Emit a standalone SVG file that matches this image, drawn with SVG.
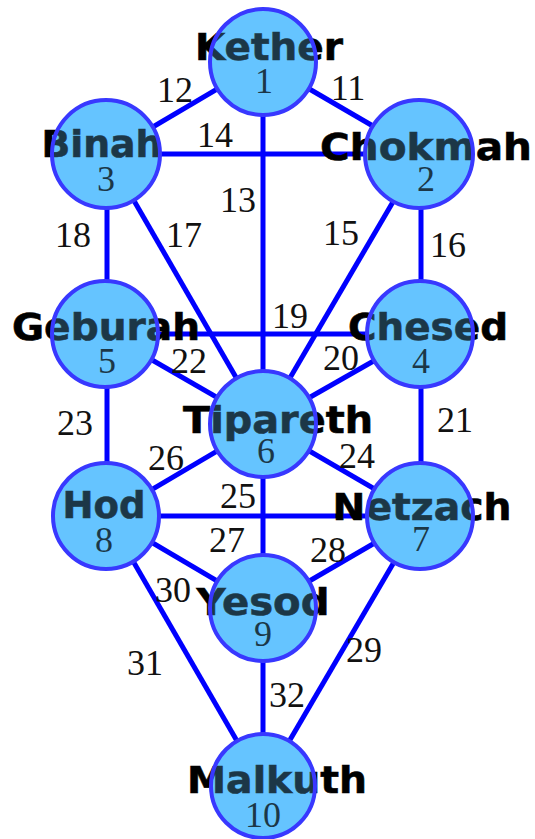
<svg xmlns="http://www.w3.org/2000/svg" width="535" height="839" viewBox="0 0 535 839">
<style>
.ln{stroke:#0000ff;stroke-width:5;fill:none}
.base{fill:#66c4ff;stroke:none}
.ov{fill:#66c4ff;fill-opacity:0.28;stroke:#3838ff;stroke-width:4}
.nm{font-family:"DejaVu Sans",sans-serif;font-weight:bold;font-size:38px;fill:#000;stroke:#000;stroke-width:0.6;text-anchor:middle}
.nu{font-family:"Liberation Serif",serif;font-size:36px;fill:#000;text-anchor:middle}
.el{font-family:"Liberation Serif",serif;font-size:36px;fill:#111;text-anchor:middle}
</style>
<rect width="535" height="839" fill="#fff"/>
<g id="connectors">
<line class="ln" x1="263" y1="62" x2="421" y2="154"/>
<line class="ln" x1="263" y1="62" x2="107" y2="154"/>
<line class="ln" x1="263" y1="62" x2="263" y2="424"/>
<line class="ln" x1="107" y1="154" x2="421" y2="154"/>
<line class="ln" x1="421" y1="154" x2="263" y2="424"/>
<line class="ln" x1="421" y1="154" x2="421" y2="334"/>
<line class="ln" x1="107" y1="154" x2="263" y2="424"/>
<line class="ln" x1="107" y1="154" x2="107" y2="334"/>
<line class="ln" x1="107" y1="334" x2="421" y2="334"/>
<line class="ln" x1="421" y1="334" x2="263" y2="424"/>
<line class="ln" x1="421" y1="334" x2="421" y2="516"/>
<line class="ln" x1="107" y1="334" x2="263" y2="424"/>
<line class="ln" x1="107" y1="334" x2="107" y2="516"/>
<line class="ln" x1="263" y1="424" x2="421" y2="516"/>
<line class="ln" x1="263" y1="424" x2="263" y2="608"/>
<line class="ln" x1="263" y1="424" x2="107" y2="516"/>
<line class="ln" x1="107" y1="516" x2="421" y2="516"/>
<line class="ln" x1="421" y1="516" x2="263" y2="608"/>
<line class="ln" x1="421" y1="516" x2="263" y2="786"/>
<line class="ln" x1="107" y1="516" x2="263" y2="608"/>
<line class="ln" x1="107" y1="516" x2="263" y2="786"/>
<line class="ln" x1="263" y1="608" x2="263" y2="786"/>
</g>
<g id="edge-labels">
<text class="el" x="348" y="100">11</text>
<text class="el" x="175" y="102">12</text>
<text class="el" x="238" y="212">13</text>
<text class="el" x="215" y="147">14</text>
<text class="el" x="341" y="245">15</text>
<text class="el" x="448" y="257">16</text>
<text class="el" x="184" y="247">17</text>
<text class="el" x="73" y="247">18</text>
<text class="el" x="290" y="328">19</text>
<text class="el" x="341" y="370">20</text>
<text class="el" x="455" y="432">21</text>
<text class="el" x="189" y="373">22</text>
<text class="el" x="75" y="435">23</text>
<text class="el" x="357" y="468">24</text>
<text class="el" x="238" y="508">25</text>
<text class="el" x="166" y="470">26</text>
<text class="el" x="227" y="552">27</text>
<text class="el" x="328" y="562">28</text>
<text class="el" x="364" y="662">29</text>
<text class="el" x="173" y="602">30</text>
<text class="el" x="145" y="675">31</text>
<text class="el" x="287" y="707">32</text>
</g>
<g id="kether">
<circle class="base" cx="263" cy="62" r="53"/>
<text class="nm" x="269" y="60" textLength="148" lengthAdjust="spacingAndGlyphs">Kether</text>
<text class="nu" x="264" y="93">1</text>
<circle class="ov" cx="263" cy="62" r="53"/>
</g>
<g id="chokmah">
<circle class="base" cx="419" cy="154" r="54"/>
<text class="nm" x="426" y="160" textLength="212" lengthAdjust="spacingAndGlyphs">Chokmah</text>
<text class="nu" x="426" y="191">2</text>
<circle class="ov" cx="419" cy="154" r="54"/>
</g>
<g id="binah">
<circle class="base" cx="106" cy="154" r="54"/>
<text class="nm" x="102" y="157" textLength="121" lengthAdjust="spacingAndGlyphs">Binah</text>
<text class="nu" x="106" y="191">3</text>
<circle class="ov" cx="106" cy="154" r="54"/>
</g>
<g id="chesed">
<circle class="base" cx="420" cy="334" r="53"/>
<text class="nm" x="428" y="340" textLength="160" lengthAdjust="spacingAndGlyphs">Chesed</text>
<text class="nu" x="421" y="373">4</text>
<circle class="ov" cx="420" cy="334" r="53"/>
</g>
<g id="geburah">
<circle class="base" cx="105" cy="334" r="53"/>
<text class="nm" x="106" y="340" textLength="188" lengthAdjust="spacingAndGlyphs">Geburah</text>
<text class="nu" x="107" y="373">5</text>
<circle class="ov" cx="105" cy="334" r="53"/>
</g>
<g id="tipareth">
<circle class="base" cx="263" cy="424" r="53"/>
<text class="nm" x="278" y="433" textLength="190" lengthAdjust="spacingAndGlyphs">Tipareth</text>
<text class="nu" x="266" y="463">6</text>
<circle class="ov" cx="263" cy="424" r="53"/>
</g>
<g id="netzach">
<circle class="base" cx="420" cy="516" r="53"/>
<text class="nm" x="422" y="520" textLength="179" lengthAdjust="spacingAndGlyphs">Netzach</text>
<text class="nu" x="421" y="551">7</text>
<circle class="ov" cx="420" cy="516" r="53"/>
</g>
<g id="hod">
<circle class="base" cx="106" cy="516" r="53"/>
<text class="nm" x="104" y="518" textLength="83" lengthAdjust="spacingAndGlyphs">Hod</text>
<text class="nu" x="104" y="552">8</text>
<circle class="ov" cx="106" cy="516" r="53"/>
</g>
<g id="yesod">
<circle class="base" cx="263" cy="608" r="53"/>
<text class="nm" x="263" y="615" textLength="133" lengthAdjust="spacingAndGlyphs">Yesod</text>
<text class="nu" x="263" y="646">9</text>
<circle class="ov" cx="263" cy="608" r="53"/>
</g>
<g id="malkuth">
<circle class="base" cx="263" cy="786" r="52"/>
<text class="nm" x="277" y="793" textLength="180" lengthAdjust="spacingAndGlyphs">Malkuth</text>
<text class="nu" x="263" y="827">10</text>
<circle class="ov" cx="263" cy="786" r="52"/>
</g>
</svg>
